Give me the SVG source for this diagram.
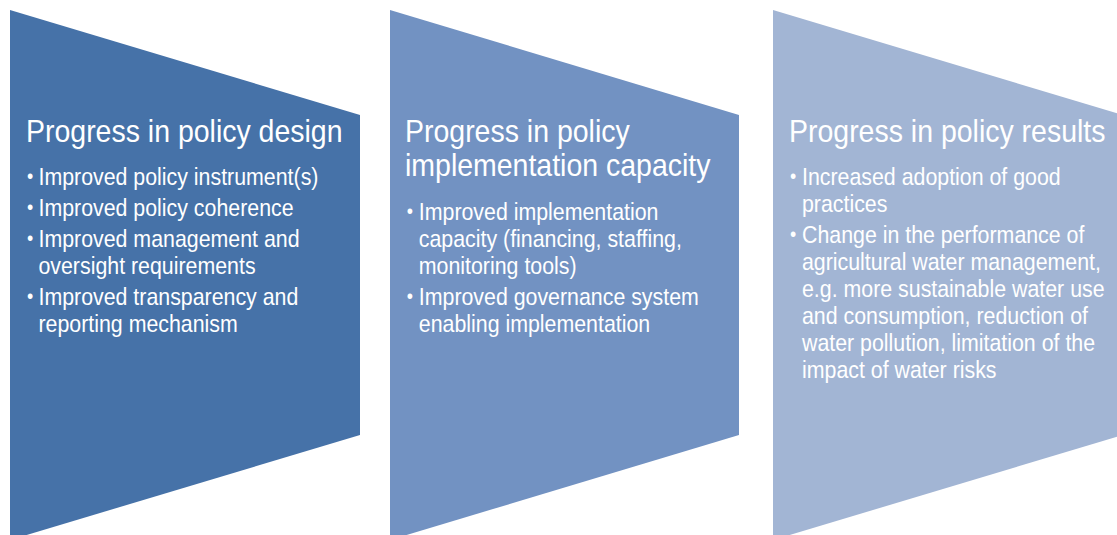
<svg xmlns="http://www.w3.org/2000/svg" width="1117" height="535" viewBox="0 0 1117 535">
<style>
text{font-family:"Liberation Sans",Arial,sans-serif;fill:#ffffff}
.t{font-size:32px}
.b{font-size:24px}
.d{font-size:20px}
</style>
<rect width="1117" height="535" fill="#ffffff"/>
<g id="node-design">
<polygon points="10,10 360,115 360,435 10,540" fill="#4672A8"/>
<g transform="translate(26 0) scale(0.89 1)">
<text class="t" x="0" y="142">Progress in policy design</text>
<text class="d" x="1" y="183">•</text><text class="b" x="14" y="185">Improved policy instrument(s)</text>
<text class="d" x="1" y="214">•</text><text class="b" x="14" y="216">Improved policy coherence</text>
<text class="d" x="1" y="245">•</text><text class="b" x="14" y="247">Improved management and</text>
<text class="b" x="14" y="274">oversight requirements</text>
<text class="d" x="1" y="303">•</text><text class="b" x="14" y="305">Improved transparency and</text>
<text class="b" x="14" y="332">reporting mechanism</text>
</g>
</g>
<g id="node-implementation">
<polygon points="390,10 739,115 739,435 390,540" fill="#7292C2"/>
<g transform="translate(405 0) scale(0.89 1)">
<text class="t" x="0" y="142">Progress in policy</text>
<text class="t" x="0" y="176">implementation capacity</text>
<text class="d" x="2" y="218">•</text><text class="b" x="15.5" y="220">Improved implementation</text>
<text class="b" x="15.5" y="247">capacity (financing, staffing,</text>
<text class="b" x="15.5" y="274">monitoring tools)</text>
<text class="d" x="2" y="303">•</text><text class="b" x="15.5" y="305">Improved governance system</text>
<text class="b" x="15.5" y="332">enabling implementation</text>
</g>
</g>
<g id="node-results">
<polygon points="773,10 1123,115 1123,435 773,540" fill="#A2B5D4"/>
<g transform="translate(789 0) scale(0.89 1)">
<text class="t" x="0" y="142">Progress in policy results</text>
<text class="d" x="1" y="183">•</text><text class="b" x="14.6" y="185">Increased adoption of good</text>
<text class="b" x="14.6" y="212">practices</text>
<text class="d" x="1" y="241">•</text><text class="b" x="14.6" y="243">Change in the performance of</text>
<text class="b" x="14.6" y="270">agricultural water management,</text>
<text class="b" x="14.6" y="297">e.g. more sustainable water use</text>
<text class="b" x="14.6" y="324">and consumption, reduction of</text>
<text class="b" x="14.6" y="351">water pollution, limitation of the</text>
<text class="b" x="14.6" y="378">impact of water risks</text>
</g>
</g>
<g id="connectors"></g>
</svg>
